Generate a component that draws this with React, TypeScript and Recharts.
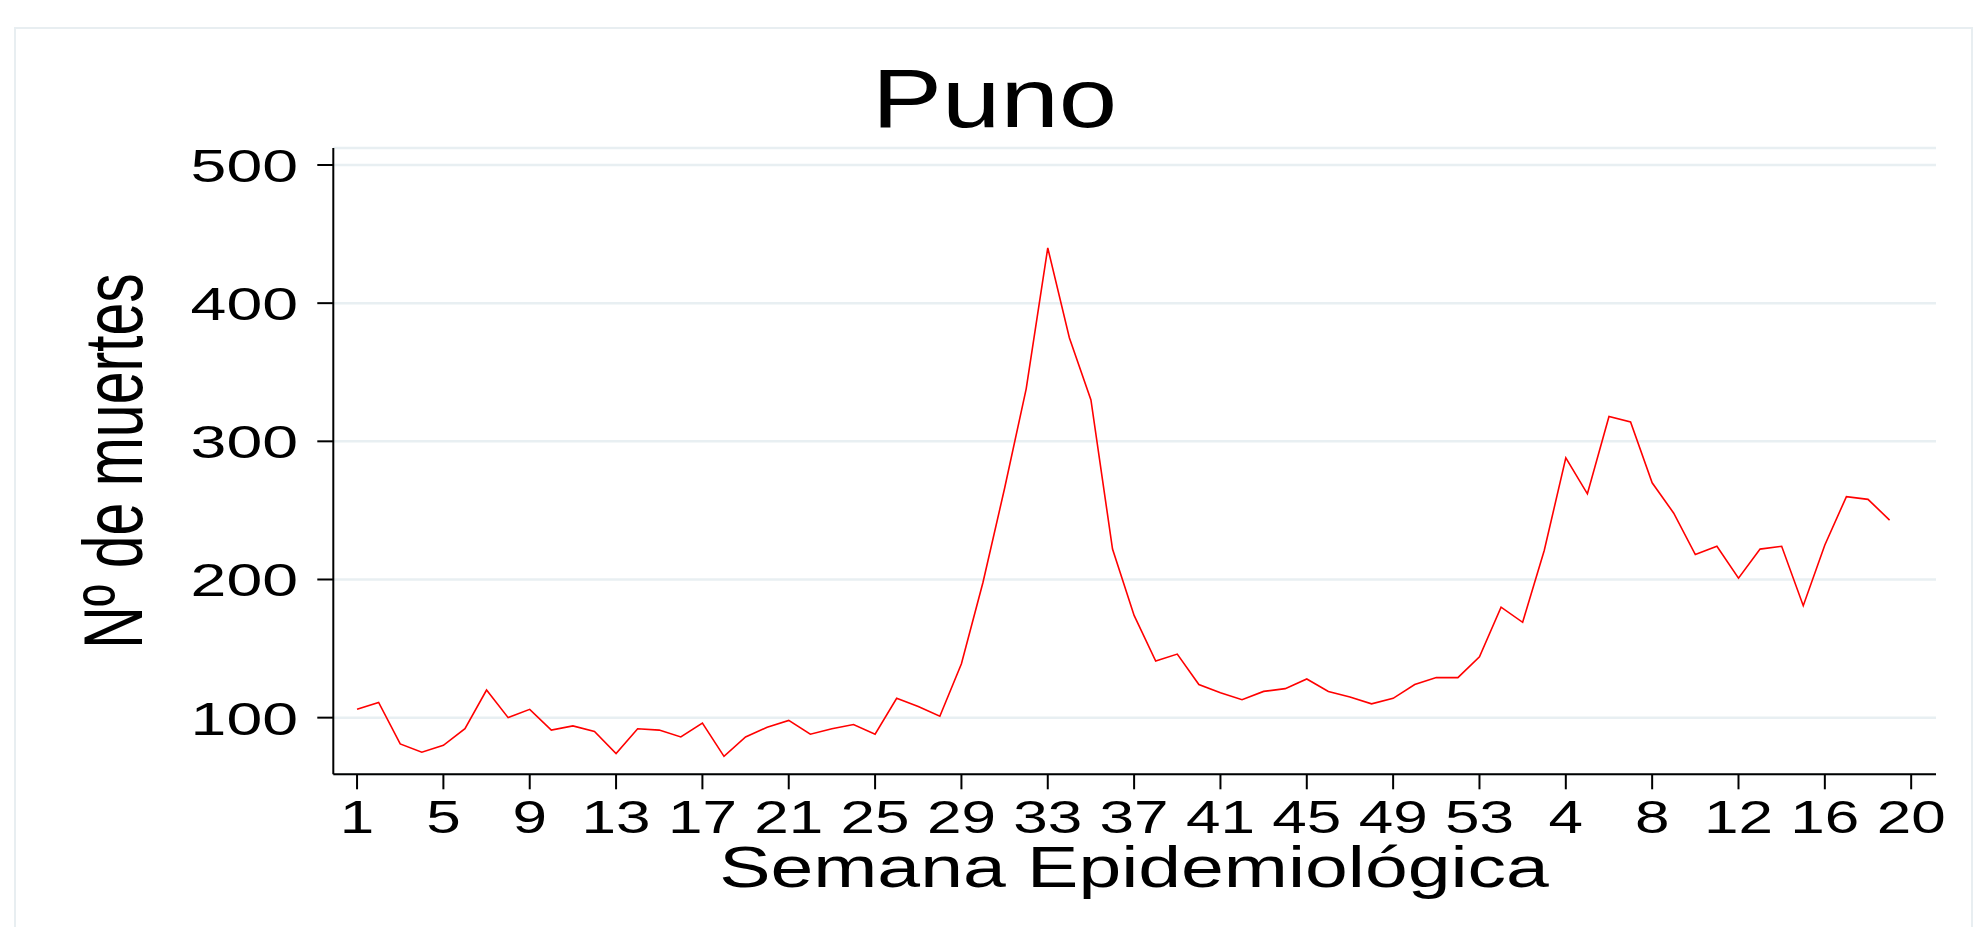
import React from "react";
import { CartesianGrid, Customized, Line, LineChart, XAxis, YAxis } from "recharts";

// Semana epidemiológica: 2020 (1–53) followed by 2021 (1–19)
const SEMANAS = [
  1, 2, 3, 4, 5, 6, 7, 8, 9, 10, 11, 12, 13, 14, 15, 16, 17, 18, 19, 20,
  21, 22, 23, 24, 25, 26, 27, 28, 29, 30, 31, 32, 33, 34, 35, 36, 37, 38, 39, 40,
  41, 42, 43, 44, 45, 46, 47, 48, 49, 50, 51, 52, 53,
  1, 2, 3, 4, 5, 6, 7, 8, 9, 10, 11, 12, 13, 14, 15, 16, 17, 18, 19,
];

// Nº de muertes por semana (Puno)
const MUERTES = [
  106, 111, 81, 75, 80, 92, 120, 100, 106, 91, 94, 90, 74, 92, 91, 86, 96, 72, 86, 93,
  98, 88, 92, 95, 88, 114, 108, 101, 139, 198, 266, 338, 440, 375, 330, 222, 174, 141, 146, 124,
  118, 113, 119, 121, 128, 119, 115, 110, 114, 124, 129, 129, 144,
  180, 169, 221, 288, 262, 318, 314, 270, 248, 218, 224, 201, 222, 224, 181, 225, 260, 258, 243,
];

const X_TICKS = [1, 5, 9, 13, 17, 21, 25, 29, 33, 37, 41, 45, 49, 53, 57, 61, 65, 69, 73];
const X_TICK_LABELS = ["1", "5", "9", "13", "17", "21", "25", "29", "33", "37", "41", "45", "49", "53", "4", "8", "12", "16", "20"];
const Y_TICKS = [100, 200, 300, 400, 500];

const FONT = "'Liberation Sans', Arial, Helvetica, sans-serif";
const X_TICK_STRETCH = 1.32;
const Y_TICK_STRETCH = 1.37;
const AXIS_TITLE_STRETCH = 1.35;
const TITLE_STRETCH = 1.25;

const rows = MUERTES.map((v, i) => ({ idx: i + 1, semana: SEMANAS[i], muertes: v }));

function XTick({ x, payload }: any) {
  const label = X_TICK_LABELS[X_TICKS.indexOf(payload.value)] ?? "";
  return (
    <text
      transform={`translate(${x}, 833) scale(${X_TICK_STRETCH}, 1)`}
      textAnchor="middle"
      fontSize={47}
      fontFamily={FONT}
      fill="#000"
    >
      {label}
    </text>
  );
}

function YTick({ y, payload }: any) {
  return (
    <text
      transform={`translate(298, ${y + 17}) scale(${Y_TICK_STRETCH}, 1)`}
      textAnchor="end"
      fontSize={47}
      fontFamily={FONT}
      fill="#000"
    >
      {payload.value}
    </text>
  );
}

function Titles() {
  return (
    <g>
      <text
        transform={`translate(994.6, 127) scale(${TITLE_STRETCH}, 1)`}
        textAnchor="middle"
        fontSize={84}
        fontFamily={FONT}
        fill="#000"
      >
        Puno
      </text>
      <text
        transform={`translate(1134, 887) scale(${AXIS_TITLE_STRETCH}, 1)`}
        textAnchor="middle"
        fontSize={57}
        fontFamily={FONT}
        fill="#000"
      >
        Semana Epidemiológica
      </text>
      <text
        transform={`translate(142, 461) scale(1.42, 1) rotate(-90)`}
        textAnchor="middle"
        fontSize={59}
        fontFamily={FONT}
        fill="#000"
      >
        Nº de muertes
      </text>
    </g>
  );
}

export default function App() {
  return (
    <div style={{ position: "absolute", left: 0, top: 0, width: 1974, height: 927, background: "#fff" }}>
      {/* outer graph-region frame */}
      <div
        style={{
          position: "absolute",
          left: 14,
          top: 27,
          width: 1955,
          height: 900,
          borderTop: "2px solid #e8eef1",
          borderLeft: "2px solid #e8eef1",
          borderRight: "2px solid #e8eef1",
        }}
      />
      <div style={{ position: "absolute", left: 0, top: 0 }}>
        <LineChart
          width={1974}
          height={927}
          data={rows}
          margin={{ top: 148, right: 38, bottom: 52.7, left: 133.3 }}
        >
          <CartesianGrid horizontal vertical={false} stroke="#e8eff2" strokeWidth={2.5} />
          <XAxis
            dataKey="idx"
            type="number"
            domain={[-0.1, 74.15]}
            ticks={X_TICKS}
            interval={0}
            height={100}
            axisLine={{ stroke: "#000", strokeWidth: 2 }}
            tickLine={{ stroke: "#000", strokeWidth: 2 }}
            tickSize={15}
            tick={<XTick />}
          />
          <YAxis
            type="number"
            domain={[59, 512.3]}
            ticks={Y_TICKS}
            interval={0}
            width={200}
            allowDataOverflow
            axisLine={{ stroke: "#000", strokeWidth: 2 }}
            tickLine={{ stroke: "#000", strokeWidth: 2 }}
            tickSize={16}
            tick={<YTick />}
          />
          <Line
            type="linear"
            dataKey="muertes"
            stroke="#ff0000"
            strokeWidth={1.6}
            dot={false}
            activeDot={false}
            isAnimationActive={false}
          />
          <Customized component={Titles} />
        </LineChart>
      </div>
    </div>
  );
}
